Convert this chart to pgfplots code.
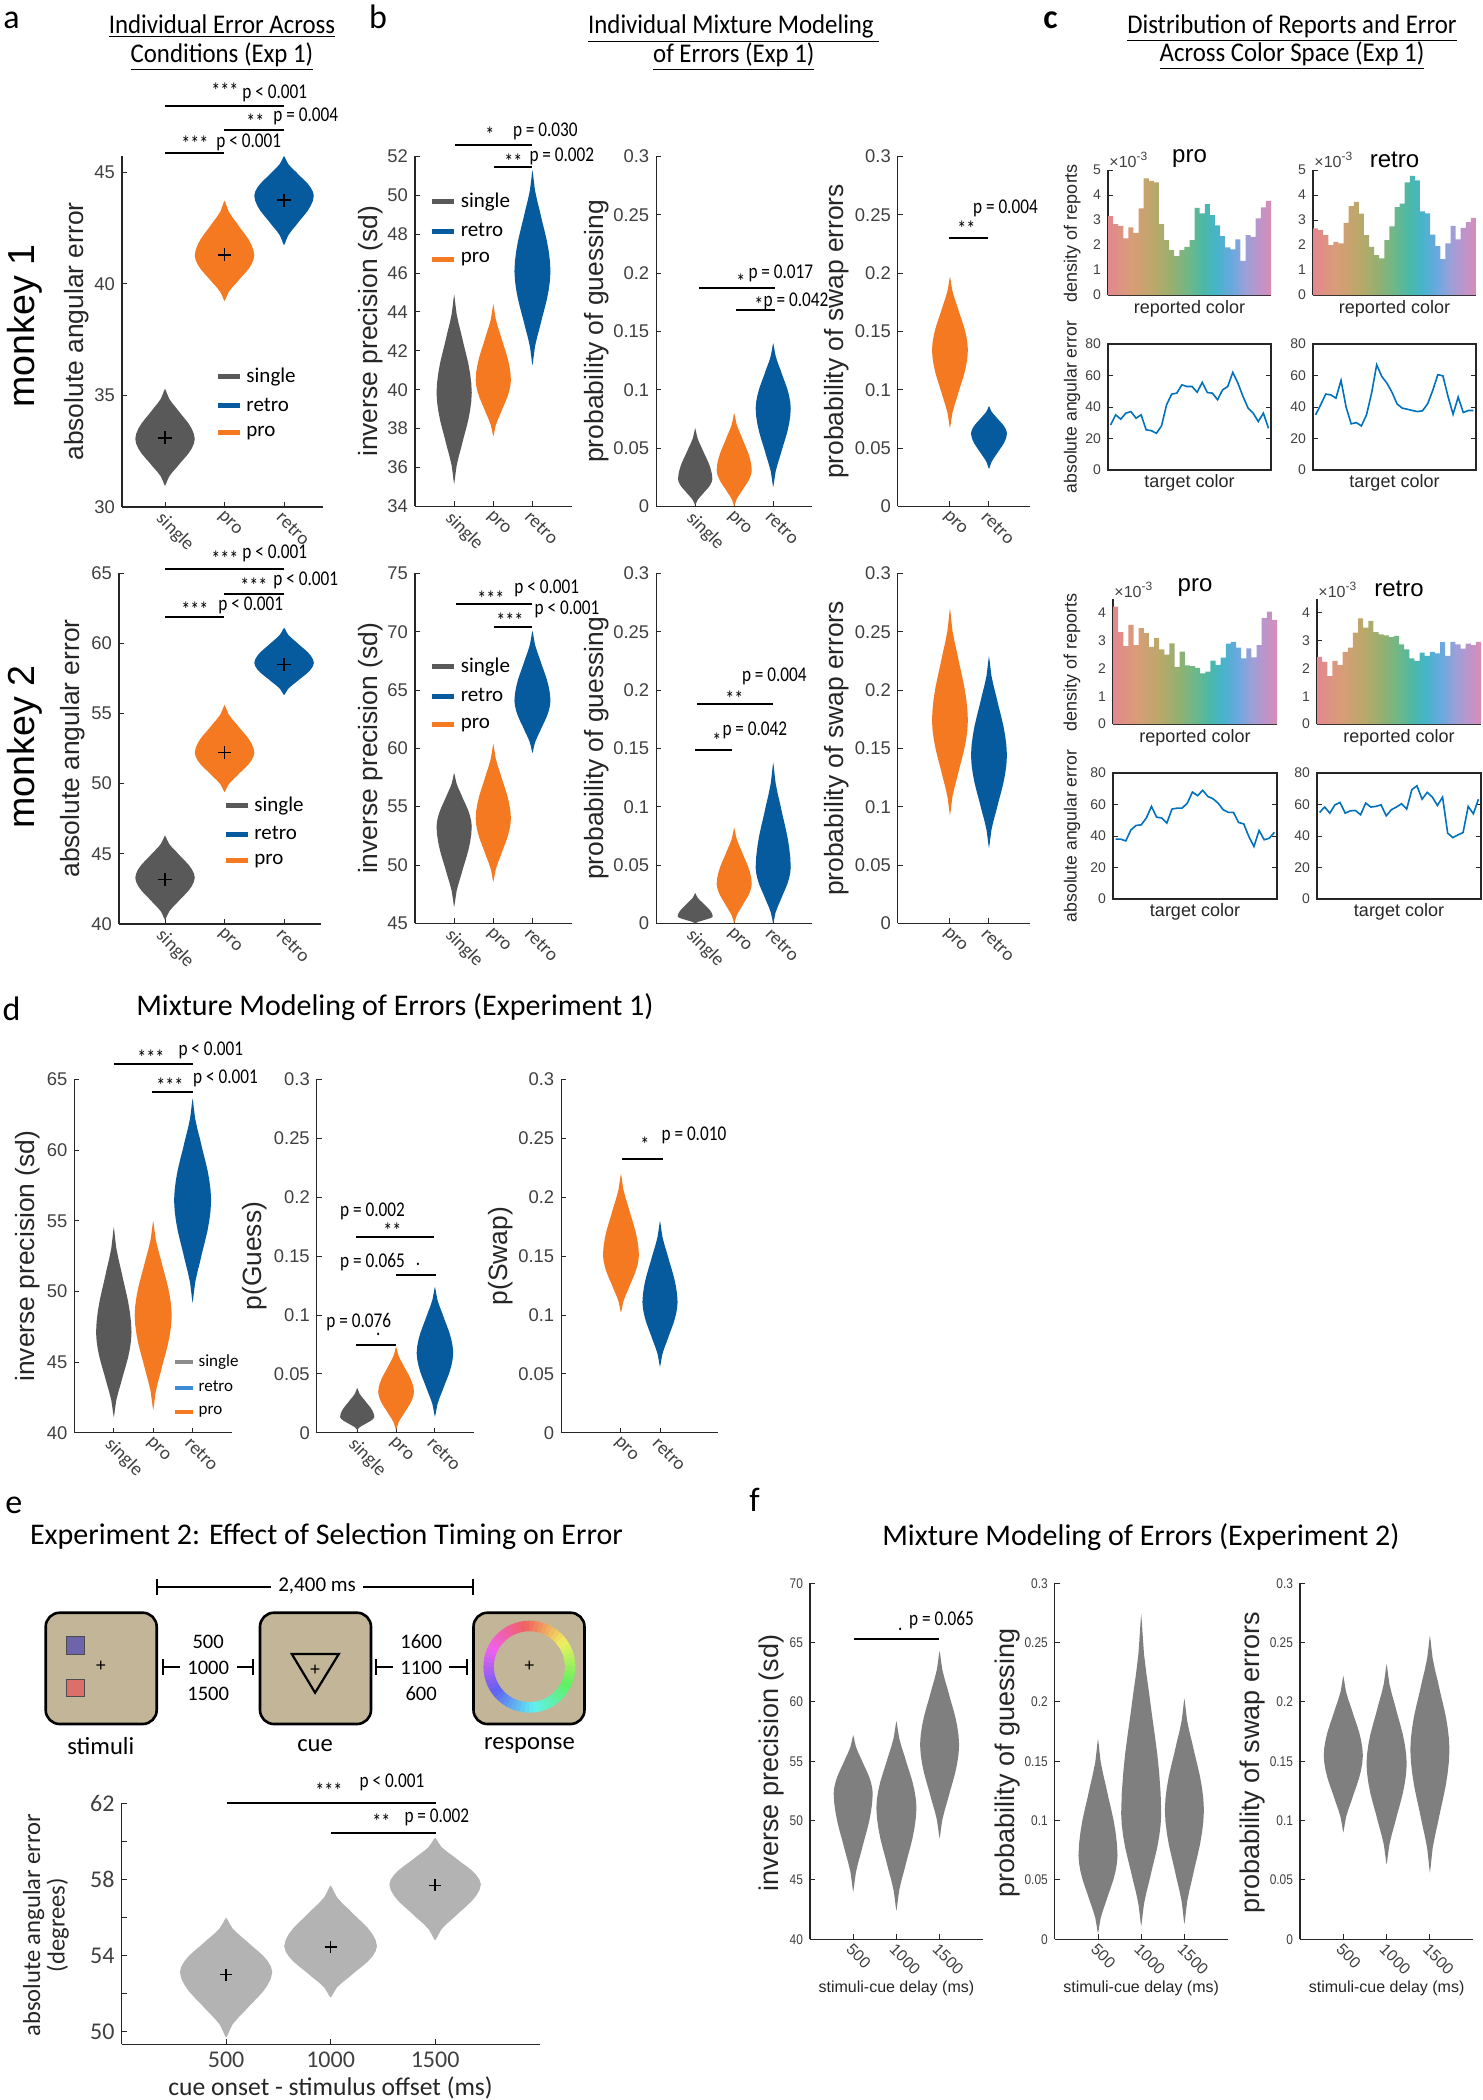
\documentclass[border=0pt]{standalone}
\usepackage{fontspec}
\setmainfont{Liberation Sans}
\newfontfamily\calfont{Carlito}
\newfontfamily\calt[FakeStretch=0.92]{Carlito}
\newfontfamily\condfont[FakeStretch=0.82]{Carlito}
\newfontfamily\narrowsf[FakeStretch=0.85]{Liberation Sans}
\usepackage{pgfplots}
\usepackage{pgfplotstable}
\pgfplotsset{compat=1.18}

\newcommand\fs[1]{\fontsize{#1}{#1}\selectfont}

\definecolor{gcol}{HTML}{595959}
\definecolor{ocol}{HTML}{F47920}
\definecolor{bcol}{HTML}{065A9E}
\definecolor{lgcol}{HTML}{B3B3B3}
\definecolor{mgcol}{HTML}{7F7F7F}
\definecolor{dlg}{HTML}{8C8C8C}
\definecolor{dlb}{HTML}{3D8AD6}
\definecolor{mline}{HTML}{262626}
\definecolor{tickc}{HTML}{404040}
\definecolor{lblue}{HTML}{0072BD}
\definecolor{boxtan}{HTML}{C3B698}
\definecolor{sqpurple}{HTML}{6E64AA}
\definecolor{sqred}{HTML}{DB706B}
% hue ramp of the report histograms
\definecolor{h0}{HTML}{E3878F}
\definecolor{h1}{HTML}{D99C78}
\definecolor{h2}{HTML}{BBA86A}
\definecolor{h3}{HTML}{93B070}
\definecolor{h4}{HTML}{6CB88A}
\definecolor{h5}{HTML}{4DB8A5}
\definecolor{h6}{HTML}{45B5C8}
\definecolor{h7}{HTML}{6AA8E0}
\definecolor{h8}{HTML}{9AA0D8}
\definecolor{h9}{HTML}{BC94CC}
\definecolor{h10}{HTML}{D88EB6}
\pgfdeclarehorizontalshading{hue}{100bp}{color(0bp)=(h0); color(25bp)=(h0);
  color(32bp)=(h1); color(39bp)=(h2); color(45bp)=(h3); color(50bp)=(h4);
  color(54bp)=(h5); color(58bp)=(h6); color(63bp)=(h7); color(67bp)=(h8);
  color(71bp)=(h9); color(75bp)=(h10); color(100bp)=(h10)}

% violin outline: w = half width (fraction), a/b = position below/above the widest point
\pgfplotstableread{
w a b
0 -1 0
0.04 -0.95 0
0.07 -0.9 0
0.14 -0.8 0
0.26 -0.7 0
0.4 -0.6 0
0.53 -0.5 0
0.67 -0.4 0
0.8 -0.3 0
0.9 -0.2 0
0.97 -0.1 0
1 0 0
0.97 0 0.1
0.9 0 0.2
0.8 0 0.3
0.67 0 0.4
0.53 0 0.5
0.4 0 0.6
0.26 0 0.7
0.14 0 0.8
0.07 0 0.9
0.04 0 0.95
0 0 1
-0.04 0 0.95
-0.07 0 0.9
-0.14 0 0.8
-0.26 0 0.7
-0.4 0 0.6
-0.53 0 0.5
-0.67 0 0.4
-0.8 0 0.3
-0.9 0 0.2
-0.97 0 0.1
-1 0 0
-0.97 -0.1 0
-0.9 -0.2 0
-0.8 -0.3 0
-0.67 -0.4 0
-0.53 -0.5 0
-0.4 -0.6 0
-0.26 -0.7 0
-0.14 -0.8 0
-0.07 -0.9 0
-0.04 -0.95 0
}\violinshape

% color, x, half width, low end, widest, high end
\newcommand{\violin}[6]{%
  \addplot[fill=#1, draw=none, forget plot] table[x expr={#2+\thisrow{w}*#3},
    y expr={#5+\thisrow{a}*(#5-#4)+\thisrow{b}*(#6-#5)}] {\violinshape};}

% report densities (x1e-3), 32 bins
\pgfplotstableread{
x y
0 3.16
1 2.84
2 2.77
3 2.27
4 2.71
5 2.49
6 3.47
7 4.67
8 4.57
9 4.51
10 2.84
11 2.2
12 1.8
13 1.56
14 1.8
15 1.93
16 2.2
17 3.49
18 3.27
19 3.64
20 3.2
21 2.79
22 2.36
23 1.91
24 1.83
25 2.23
26 1.37
27 2.4
28 2.33
29 3.07
30 3.51
31 3.77
32 3.77
}\histproA
\pgfplotstableread{
x y
0 2.67
1 2.6
2 2.4
3 2.0
4 2.13
5 2.07
6 2.89
7 3.56
8 3.73
9 3.26
10 2.4
11 1.93
12 1.6
13 1.47
14 2.2
15 2.75
16 3.52
17 3.66
18 4.51
19 4.77
20 4.59
21 3.35
22 3.27
23 2.42
24 1.96
25 1.44
26 2.07
27 2.77
28 2.23
29 2.69
30 2.92
31 3.09
32 3.09
}\histretroA
\pgfplotstableread{
x y
0 4.23
1 3.31
2 2.8
3 3.57
4 2.84
5 3.45
6 3.27
7 2.78
8 3.1
9 2.69
10 2.5
11 2.9
12 2.06
13 2.61
14 2.11
15 2.08
16 2.02
17 1.82
18 1.89
19 2.28
20 2.13
21 2.39
22 2.89
23 2.96
24 2.75
25 2.36
26 2.72
27 2.4
28 2.84
29 3.81
30 4.05
31 3.75
32 3.75
}\histproB
\pgfplotstableread{
x y
0 2.42
1 2.24
2 1.72
3 2.27
4 2.12
5 2.6
6 2.75
7 3.29
8 3.8
9 3.47
10 3.71
11 3.31
12 3.23
13 3.19
14 3.13
15 3.17
16 2.87
17 2.69
18 2.36
19 2.27
20 2.57
21 2.45
22 2.6
23 2.54
24 2.95
25 2.45
26 2.96
27 2.87
28 2.71
29 2.89
30 2.84
31 2.96
32 2.96
}\histretroB

\pgfplotsset{
  base/.style={scale only axis, anchor=south west,
    axis line style={mline, line width=0.6pt, -},
    tick align=inside, major tick length=2.5pt,
    tick style={mline, line width=0.5pt},
    tick label style={color=tickc},
    label style={color=mline},
    /pgf/number format/assume math mode=true,
    /pgf/number format/fixed, /pgf/number format/precision=3,
    scaled ticks=false},
  vio/.style={base, axis lines*=left,
    yticklabel style={font=\fs{9.2}},
    xticklabel style={font=\calfont\fs{9.5}, rotate=-45, anchor=north west, inner sep=1pt},
    ylabel style={font=\fs{13.2}, at={(axis description cs:#1,0.5)}, anchor=center}},
  cat3/.style={xtick={1,2,3}, xticklabels={single,pro,retro}},
  cat2/.style={xtick={1,2}, xticklabels={pro,retro}},
  prob/.style={ymin=0, ymax=0.3, ytick={0,0.05,0.1,0.15,0.2,0.25,0.3}},
  leg/.style n args={4}{legend style={at={(axis description cs:#1,#2)}, anchor=north west,
      draw=none, fill=none, inner sep=0pt, font=\calfont\fs{#3}, row sep=#4,
      cells={anchor=west}},
    legend image code/.code={\draw[line width=2.5pt, ##1] (0pt,0pt) -- (11pt,0pt);}},
  hist/.style={base, axis lines*=left, xtick=\empty, xmin=0, xmax=32, ymin=0,
    yticklabel style={font=\fs{7}}, xlabel={reported color},
    xlabel style={font=\fs{9}, at={(axis description cs:0.5,0)}, anchor=center, yshift=-7pt},
    ylabel style={font=\fs{9}, at={(axis description cs:#1,0.496)}, anchor=center},
    title style={font=\fs{12}, at={(axis description cs:0.5,1)}, anchor=south, inner sep=2pt, yshift=-7pt}},
  lin/.style={base, xtick=\empty, xmin=0.5, xmax=32.5, ymin=0, ymax=80,
    ytick={0,20,40,60,80}, yticklabel style={font=\fs{7}}, xlabel={target color},
    xlabel style={font=\fs{9}, at={(axis description cs:0.5,0)}, anchor=center, yshift=-6.5pt},
    ylabel style={font=\fs{8.8}, at={(axis description cs:#1,0.5)}, anchor=center}},
  exptwo/.style={base, axis lines*=left, xmin=0, xmax=2000, xtick={500,1000,1500},
    xticklabels={500,1000,1500},
    yticklabel style={font=\narrowsf\fs{7}},
    xticklabel style={font=\fs{8}, rotate=-45, anchor=north west, inner sep=1pt},
    xlabel={stimuli-cue delay (ms)},
    xlabel style={font=\fs{8}, at={(axis description cs:0.5,0)}, anchor=center, yshift=-24.3pt},
    ylabel style={font=\fs{13.5}, at={(axis description cs:#1,0.495)}, anchor=center}},
}

\begin{document}
\begin{tikzpicture}

% ---------------- panel a ----------------
\begin{axis}[vio=-0.224, cat3, at={(61pt,-253.5pt)}, width=100.5pt, height=175.5pt,
  xmin=0.277, xmax=3.655, ymin=30, ymax=45.73, ytick={30,35,40,45},
  ylabel={absolute angular error}, leg={0.463}{0.408}{10.5}{2pt}]
\addlegendimage{gcol}\addlegendentry{single}
\addlegendimage{bcol}\addlegendentry{retro}
\addlegendimage{ocol}\addlegendentry{pro}
\violin{gcol}{1}{0.5}{30.95}{33.05}{35.3}
\violin{ocol}{2}{0.5}{39.23}{41.27}{43.73}
\violin{bcol}{3}{0.5}{41.73}{43.95}{45.73}
\addplot[only marks, mark=+, mark size=3.3pt, black, line width=0.7pt] coordinates {(1,33.1) (2,41.3) (3,43.75)};
\end{axis}

\begin{axis}[vio=-0.228, cat3, at={(59.5pt,-462pt)}, width=101pt, height=175.5pt,
  xmin=0.227, xmax=3.62, ymin=40, ymax=65, ytick={40,45,...,65},
  ylabel={absolute angular error}, leg={0.515}{0.376}{10.5}{2pt}]
\addlegendimage{gcol}\addlegendentry{single}
\addlegendimage{bcol}\addlegendentry{retro}
\addlegendimage{ocol}\addlegendentry{pro}
\violin{gcol}{1}{0.5}{40.3}{43.3}{46.3}
\violin{ocol}{2}{0.5}{49.4}{52.2}{55.6}
\violin{bcol}{3}{0.5}{56.3}{58.6}{61.1}
\addplot[only marks, mark=+, mark size=3.3pt, black, line width=0.7pt] coordinates {(1,43.15) (2,52.2) (3,58.5)};
\end{axis}

% ---------------- panel b ----------------
\begin{axis}[vio=-0.282, cat3, at={(207.5pt,-253.2pt)}, width=78.3pt, height=175pt,
  xmin=0, xmax=4, ymin=34, ymax=52, ytick={34,36,...,52},
  ylabel={inverse precision (sd)}, leg={0.092}{0.909}{10.5}{2.5pt}]
\addlegendimage{gcol}\addlegendentry{single}
\addlegendimage{bcol}\addlegendentry{retro}
\addlegendimage{ocol}\addlegendentry{pro}
\violin{gcol}{1}{0.45}{35.15}{39.85}{44.9}
\violin{ocol}{2}{0.45}{37.6}{40.5}{44.4}
\violin{bcol}{3}{0.46}{41.25}{46.1}{51.3}
\end{axis}

\begin{axis}[vio=-0.384, cat3, prob, at={(328.1pt,-253.2pt)}, width=78pt, height=175pt,
  xmin=0, xmax=4, ylabel={probability of guessing}]
\violin{gcol}{1}{0.44}{0.001}{0.0235}{0.067}
\violin{ocol}{2}{0.45}{0.0}{0.031}{0.08}
\violin{bcol}{3}{0.45}{0.0165}{0.084}{0.14}
\end{axis}

\begin{axis}[vio=-0.459, cat2, prob, at={(448.9pt,-253.2pt)}, width=66.2pt, height=175pt,
  xmin=-0.336, xmax=3.056, ylabel={probability of swap errors}]
\violin{ocol}{1}{0.46}{0.067}{0.134}{0.197}
\violin{bcol}{2}{0.46}{0.032}{0.0626}{0.086}
\end{axis}

\begin{axis}[vio=-0.282, cat3, at={(207.5pt,-461.7pt)}, width=78.3pt, height=175pt,
  xmin=0, xmax=4, ymin=45, ymax=75, ytick={45,50,...,75},
  ylabel={inverse precision (sd)}, leg={0.092}{0.771}{10.5}{2.5pt}]
\addlegendimage{gcol}\addlegendentry{single}
\addlegendimage{bcol}\addlegendentry{retro}
\addlegendimage{ocol}\addlegendentry{pro}
\violin{gcol}{1}{0.45}{46.4}{53.3}{57.9}
\violin{ocol}{2}{0.45}{48.55}{54.0}{60.4}
\violin{bcol}{3}{0.46}{59.6}{64.1}{70.1}
\end{axis}

\begin{axis}[vio=-0.384, cat3, prob, at={(328.1pt,-461.7pt)}, width=78pt, height=175pt,
  xmin=0, xmax=4, ylabel={probability of guessing}]
\violin{gcol}{1}{0.45}{0.0}{0.006}{0.026}
\violin{ocol}{2}{0.45}{0.0}{0.034}{0.082}
\violin{bcol}{3}{0.45}{0.0}{0.048}{0.138}
\end{axis}

\begin{axis}[vio=-0.459, cat2, prob, at={(448.9pt,-461.7pt)}, width=66.2pt, height=175pt,
  xmin=-0.336, xmax=3.056, ylabel={probability of swap errors}]
\violin{ocol}{1}{0.46}{0.0925}{0.174}{0.27}
\violin{bcol}{2}{0.46}{0.0645}{0.144}{0.229}
\end{axis}

% ---------------- panel c ----------------
\begin{axis}[hist=-0.22, at={(554pt,-147.5pt)}, width=81.5pt, height=62.5pt,
  ymax=5, ytick={0,1,2,3,4,5}, title={pro}, ylabel={density of reports}]
\addplot[draw=none, shade, shading=hue, const plot] table {\histproA} \closedcycle;
\end{axis}
\begin{axis}[hist=-0.22, at={(656.5pt,-147.5pt)}, width=81.5pt, height=62.5pt,
  ymax=5, ytick={0,1,2,3,4,5}, title={retro}]
\addplot[draw=none, shade, shading=hue, const plot] table {\histretroA} \closedcycle;
\end{axis}
\begin{axis}[lin=-0.22, at={(554pt,-235pt)}, width=81.5pt, height=63pt,
  ylabel={absolute angular error}]
\addplot[lblue, line width=0.8pt] coordinates {
 (1,28.6) (2,35.0) (3,32.3) (4,36.1) (5,37.1) (6,32.9) (7,35.0) (8,25.5)
 (9,25.0) (10,23.3) (11,28.0) (12,41.4) (13,48.2) (14,48.8) (15,54.1) (16,53.0)
 (17,53.0) (18,49.4) (19,55.6) (20,49.2) (21,48.8) (22,44.6) (23,50.9) (24,53.0)
 (25,62.0) (26,55.2) (27,46.7) (28,39.3) (29,36.1) (30,30.8) (31,36.1) (32,26.5)};
\end{axis}
\begin{axis}[lin=-0.22, at={(656.5pt,-235pt)}, width=81.5pt, height=63pt]
\addplot[lblue, line width=0.8pt] coordinates {
 (1,35.0) (2,41.4) (3,48.2) (4,47.7) (5,45.6) (6,56.9) (7,39.9) (8,29.3)
 (9,30.1) (10,28.0) (11,35.0) (12,48.8) (13,66.8) (14,59.4) (15,55.2) (16,49.4)
 (17,42.0) (18,39.3) (19,38.6) (20,37.8) (21,37.1) (22,37.6) (23,42.0) (24,50.5)
 (25,60.5) (26,59.8) (27,46.7) (28,35.4) (29,46.3) (30,36.5) (31,37.8) (32,37.8)};
\end{axis}

\begin{axis}[hist=-0.25, at={(556.5pt,-362pt)}, width=82pt, height=62.5pt,
  ymax=4.5, ytick={0,1,2,3,4}, title={pro}, ylabel={density of reports}]
\addplot[draw=none, shade, shading=hue, const plot] table {\histproB} \closedcycle;
\end{axis}
\begin{axis}[hist=-0.25, at={(658.5pt,-362pt)}, width=82pt, height=62.5pt,
  ymax=4.5, ytick={0,1,2,3,4}, title={retro}]
\addplot[draw=none, shade, shading=hue, const plot] table {\histretroB} \closedcycle;
\end{axis}
\begin{axis}[lin=-0.25, at={(556.5pt,-449.5pt)}, width=82pt, height=63pt,
  ylabel={absolute angular error}]
\addplot[lblue, line width=0.8pt] coordinates {
 (1,38.0) (2,38.0) (3,36.9) (4,43.9) (5,46.7) (6,47.1) (7,51.4) (8,58.8)
 (9,52.0) (10,51.4) (11,48.2) (12,57.1) (13,57.7) (14,57.7) (15,60.9) (16,67.9)
 (17,65.6) (18,69.0) (19,65.1) (20,63.7) (21,60.9) (22,56.7) (23,55.0) (24,55.0)
 (25,48.6) (26,47.7) (27,39.7) (28,33.3) (29,43.5) (30,37.6) (31,38.6) (32,42.4)};
\end{axis}
\begin{axis}[lin=-0.25, at={(658.5pt,-449.5pt)}, width=82pt, height=63pt]
\addplot[lblue, line width=0.8pt] coordinates {
 (1,55.0) (2,58.4) (3,54.5) (4,59.8) (5,61.3) (6,54.5) (7,56.0) (8,56.2)
 (9,53.5) (10,60.9) (11,58.4) (12,58.8) (13,59.8) (14,52.8) (15,56.7) (16,58.4)
 (17,60.5) (18,57.1) (19,69.4) (20,71.9) (21,63.4) (22,67.7) (23,64.7) (24,59.4)
 (25,64.7) (26,41.8) (27,39.0) (28,40.7) (29,42.2) (30,58.8) (31,54.1) (32,63.4)};
\end{axis}

% ---------------- panel d ----------------
\begin{axis}[vio=-0.298, cat3, at={(37.2pt,-716.4pt)}, width=78.8pt, height=176.7pt,
  xmin=0, xmax=4, ymin=40, ymax=65, ytick={40,45,...,65},
  ylabel={inverse precision (sd)}, leg={0.621}{0.234}{8.5}{1.7pt},
  legend image code/.code={\draw[line width=2pt, #1] (0pt,0pt) -- (9pt,0pt);}]
\addlegendimage{dlg}\addlegendentry{single}
\addlegendimage{dlb}\addlegendentry{retro}
\addlegendimage{ocol}\addlegendentry{pro}
\violin{gcol}{1}{0.45}{41.1}{47.1}{54.55}
\violin{ocol}{2}{0.47}{41.6}{48.3}{55.0}
\violin{bcol}{3}{0.47}{49.2}{56.45}{63.65}
\end{axis}

\begin{axis}[vio=-0.395, cat3, prob, at={(158.4pt,-716.4pt)}, width=78.5pt, height=176.7pt,
  xmin=-0.04, xmax=4, ylabel={p(Guess)}]
\violin{gcol}{1}{0.44}{0.0025}{0.0136}{0.038}
\violin{ocol}{2}{0.46}{0.0025}{0.0348}{0.073}
\violin{bcol}{3}{0.47}{0.0136}{0.0678}{0.124}
\end{axis}

\begin{axis}[vio=-0.386, cat2, prob, at={(280.6pt,-716.4pt)}, width=78.5pt, height=176.7pt,
  xmin=-0.53, xmax=3.49, ylabel={p(Swap)}]
\violin{ocol}{1}{0.46}{0.102}{0.151}{0.22}
\violin{bcol}{2}{0.45}{0.056}{0.111}{0.18}
\end{axis}

% ---------------- panel e ----------------
\begin{axis}[base, axis lines*=left, at={(60.8pt,-1022.2pt)}, width=209pt, height=120.5pt,
  xmin=0, xmax=2000, ymin=49.34, ymax=62, xtick={500,1000,1500}, xticklabels={500,1000,1500},
  ytick={50,52,54,56,58,60,62}, yticklabels={50,,54,,58,,62},
  tick label style={font=\calfont\fs{12}},
  xlabel={cue onset - stimulus offset (ms)},
  xlabel style={font=\calfont\fs{12.8}, at={(axis description cs:0.5,0)}, anchor=center, yshift=-21.5pt},
  ylabel={absolute angular error\\(degrees)},
  ylabel style={font=\calfont\fs{12.3}, align=center, at={(axis description cs:-0.181,0.495)}, anchor=center}]
\violin{lgcol}{500}{221}{49.7}{53.15}{56.0}
\violin{lgcol}{1000}{222}{51.8}{54.5}{57.7}
\violin{lgcol}{1500}{219}{54.8}{57.75}{60.2}
\addplot[only marks, mark=+, mark size=3pt, black, line width=0.7pt] coordinates {(500,53.0) (1000,54.45) (1500,57.7)};
\end{axis}

% ---------------- panel f ----------------
\begin{axis}[exptwo=-0.225, at={(405pt,-969.65pt)}, width=86.4pt, height=178pt,
  ymin=40, ymax=70, ytick={40,45,...,70}, ylabel={inverse precision (sd)}]
\violin{mgcol}{500}{226}{44.0}{52.3}{57.2}
\violin{mgcol}{1000}{232}{42.4}{51.1}{58.4}
\violin{mgcol}{1500}{226}{48.5}{56.4}{64.3}
\end{axis}
\begin{axis}[exptwo=-0.276, prob, at={(527.4pt,-969.65pt)}, width=86.4pt, height=178pt,
  ylabel={probability of guessing}]
\violin{mgcol}{500}{226}{0.005}{0.0706}{0.169}
\violin{mgcol}{1000}{232}{0.011}{0.106}{0.274}
\violin{mgcol}{1500}{226}{0.0126}{0.109}{0.203}
\end{axis}
\begin{axis}[exptwo=-0.272, prob, at={(650pt,-969.65pt)}, width=86.6pt, height=178pt,
  ylabel={probability of swap errors}]
\violin{mgcol}{500}{226}{0.09}{0.155}{0.222}
\violin{mgcol}{1000}{232}{0.063}{0.148}{0.232}
\violin{mgcol}{1500}{226}{0.056}{0.16}{0.256}
\end{axis}

% ---------------- text, significance bars, schematic ----------------
\begin{scope}[x=0.5pt, y=-0.5pt]
\newcommand\sig[3]{\draw[line width=1pt] (#1,#3) -- (#2,#3);}
\newcommand\pt[3]{\node[anchor=west, inner sep=0pt, font=\condfont\fs{10.5}] at (#1,#2) {#3};}
\newcommand\st[3]{\node[anchor=west, inner sep=0pt, font=\condfont\fs{11}] at (#1,#2+1.5) {#3};}

% panel letters and titles
\node[anchor=base west, inner sep=0pt, font=\calfont\fs{17}] at (3,28.7) {a};
\node[anchor=base west, inner sep=0pt, font=\calfont\fs{17}] at (368.7,28.7) {b};
\node[anchor=base west, inner sep=0pt, font=\calfont\bfseries\fs{17}] at (1043,28) {c};
\node[anchor=base west, inner sep=0pt, font=\calfont\fs{17}] at (2.3,1020) {d};
\node[anchor=base west, inner sep=0pt, font=\calfont\fs{17}] at (5,1513) {e};
\node[anchor=base west, inner sep=0pt, font=\calfont\fs{17}] at (749,1511.5) {f};

\node[anchor=base, inner sep=0pt, font=\calt\fs{13.5}] at (222,33.8) {\underline{Individual Error Across}};
\node[anchor=base, inner sep=0pt, font=\calt\fs{13.5}] at (222,62.5) {\underline{Conditions (Exp 1)}};
\node[anchor=base, inner sep=0pt, font=\calt\fs{13.5}] at (733.8,33.8) {\underline{Individual Mixture Modeling\ }};
\node[anchor=base, inner sep=0pt, font=\calt\fs{13.5}] at (733.8,62.5) {\underline{of Errors (Exp 1)}};
\node[anchor=base, inner sep=0pt, font=\calt\fs{13.5}] at (1292,33.3) {\underline{Distribution of Reports and Error}};
\node[anchor=base, inner sep=0pt, font=\calt\fs{13.5}] at (1292,61.7) {\underline{Across Color Space (Exp 1)}};
\node[anchor=base, inner sep=0pt, font=\calfont\fs{15}] at (394.9,1015) {Mixture Modeling of Errors (Experiment 1)};
\node[anchor=base, inner sep=0pt, font=\calfont\fs{15}] at (326.5,1544.3) {Experiment 2: Effect of Selection Timing on Error};
\node[anchor=base, inner sep=0pt, font=\calfont\fs{15}] at (1140.9,1545.9) {Mixture Modeling of Errors (Experiment 2)};

\node[rotate=90, font=\fs{18.8}] at (25,326) {monkey 1};
\node[rotate=90, font=\fs{18.8}] at (25,747) {monkey 2};

% x10^-3 multipliers
\foreach \xx/\yy in {1109/160, 1314/160, 1114/590, 1318/590}
  \node[anchor=west, inner sep=0pt, font=\fs{8}, color=tickc] at (\xx,\yy) {×10\raisebox{3.5pt}{\fs{6}-3}};

% panel a
\sig{165}{284}{105.5} \st{211}{89.6}{***} \pt{242}{93}{p < 0.001}
\sig{224}{284}{130.2} \st{246}{120}{**} \pt{273}{116.6}{p = 0.004}
\sig{165}{224}{153.1} \st{181}{142}{***} \pt{216}{142}{p < 0.001}
\sig{165}{284}{569} \st{211}{557}{***} \pt{242}{553}{p < 0.001}
\sig{224}{284}{594} \st{240}{584}{***} \pt{273}{580}{p < 0.001}
\sig{165}{224}{617} \st{181}{608}{***} \pt{218}{605}{p < 0.001}
% panel b
\sig{455.4}{532.2}{145.4} \st{485}{133}{*} \pt{512.6}{131.2}{p = 0.030}
\sig{493.6}{532.2}{167.3} \st{504}{160}{**} \pt{529.1}{156.5}{p = 0.002}
\sig{699.1}{775}{288.4} \st{736}{280}{*} \pt{748.1}{273.2}{p = 0.017}
\sig{736.4}{775}{310.4} \st{754}{303}{*} \pt{763.3}{300.9}{p = 0.042}
\sig{948.9}{987.5}{238.3} \st{957}{227.5}{**} \pt{972.7}{208.6}{p = 0.004}
\sig{456.3}{532.2}{604.3} \st{477}{597}{***} \pt{514}{588.3}{p < 0.001}
\sig{493.6}{532.2}{626.7} \st{496}{619.3}{***} \pt{534.3}{609.3}{p < 0.001}
\sig{697.4}{772.8}{704.3} \st{725}{697}{**} \pt{741.6}{676.7}{p = 0.004}
\sig{694.8}{732.1}{750} \st{712}{739.3}{*} \pt{722.1}{730.7}{p = 0.042}
% panel d
\sig{113.9}{192.8}{1064.3} \st{137}{1056}{***} \pt{178.1}{1050}{p < 0.001}
\sig{152.4}{192.8}{1091.7} \st{156}{1084.3}{***} \pt{192.8}{1078.3}{p < 0.001}
\sig{355.8}{433.9}{1237.3} \pt{339.8}{1211.7}{p = 0.002} \st{383}{1229.3}{**}
\sig{395.8}{436.2}{1275} \pt{339.8}{1261.7}{p = 0.065} \pt{415.5}{1264}{.}
\sig{355.8}{395.8}{1345} \pt{326}{1321.7}{p = 0.076} \pt{375.6}{1334}{.}
\sig{622.1}{662.5}{1159.3} \st{640}{1142.7}{*} \pt{661.2}{1135}{p = 0.010}
% panel e
\sig{226.5}{435.5}{1802.7} \st{315}{1789.3}{***} \pt{359.2}{1782}{p < 0.001}
\sig{330.6}{435.5}{1833.3} \st{372}{1820.3}{**} \pt{404.1}{1817.3}{p = 0.002}
% panel f
\sig{853.8}{939}{1638.9} \pt{897.6}{1629}{.} \pt{908.8}{1619.8}{p = 0.065}

% schematic of experiment 2
\draw[line width=1pt] (157.1,1579) -- (157.1,1595) (157.1,1587.3) -- (271.4,1587.3)
  (363.3,1587.3) -- (472.7,1587.3) (472.7,1579) -- (472.7,1595);
\node[font=\calfont\fs{10.5}] at (317.1,1586) {2,400 ms};
\foreach \bx in {45.7,260,473.5}
  \draw[fill=boxtan, line width=1.3pt, rounded corners=7pt] (\bx,1612.7) rectangle ++(111,111.3);
\draw[fill=sqpurple, draw=black!70, line width=0.4pt] (66.1,1636) rectangle (84.5,1654);
\draw[fill=sqred, draw=black!70, line width=0.4pt] (66.1,1679.3) rectangle (84.5,1696.7);
\draw[line width=1.1pt] (291.8,1654) -- (338.8,1654) -- (315.1,1692.7) -- cycle;
\begin{scope}[shift={(529.4,1666.7)}]
\foreach \a in {0,6,...,354} {
  \pgfmathtruncatemacro\hh{mod(90-\a+723,360)}
  \definecolor{ringc}{Hsb}{\hh,0.6,0.94}
  \fill[ringc] (\a:23pt) arc[start angle=\a, end angle=\a+6.6, radius=23pt]
    -- (\a+6.6:17.75pt) arc[start angle=\a+6.6, end angle=\a, radius=17.75pt] -- cycle;
}
\end{scope}
\foreach \px/\py in {100.8/1666.7, 315.1/1670, 529.4/1666.7}
  \node[font=\fs{9}, inner sep=0pt] at (\px,\py) {+};
\node[font=\calfont\fs{12.3}] at (100.8,1745.7) {stimuli};
\node[font=\calfont\fs{12.3}] at (315.1,1745.7) {cue};
\node[font=\calfont\fs{12.3}] at (529.4,1745.7) {response};
\foreach \nx/\ta/\tb/\tc in {208.2/500/1000/1500, 421.2/1600/1100/600} {
  \node[font=\calfont\fs{10.3}] at (\nx,1642) {\ta};
  \node[font=\calfont\fs{10.3}] at (\nx,1667.7) {\tb};
  \node[font=\calfont\fs{10.3}] at (\nx,1694) {\tc};
}
\draw[line width=1pt] (163.3,1659) -- (163.3,1675) (163.3,1667) -- (179.6,1667)
  (236.7,1667) -- (253.1,1667) (253.1,1659) -- (253.1,1675);
\draw[line width=1pt] (376.3,1659) -- (376.3,1675) (376.3,1667) -- (393.1,1667)
  (449,1667) -- (466.5,1667) (466.5,1659) -- (466.5,1675);
\end{scope}

\pgfresetboundingbox
\path (0pt,0pt) rectangle (741.5pt,-1050pt);
\end{tikzpicture}
\end{document}
